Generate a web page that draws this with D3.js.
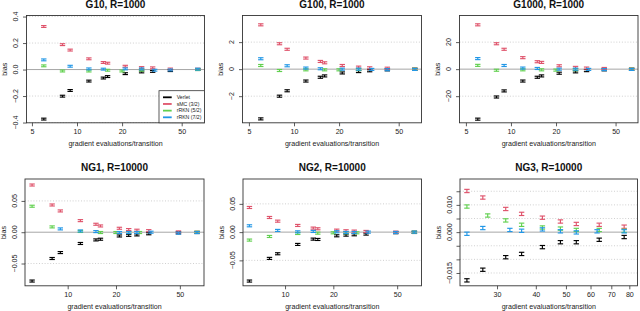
<!DOCTYPE html>
<html>
<head>
<meta charset="utf-8">
<script src="https://cdn.jsdelivr.net/npm/d3@7/dist/d3.min.js"></script>
<style>
body { margin: 0; background: #fff; }
svg { display: block; font-family: "Liberation Sans", Arial, Helvetica, sans-serif; }
</style>
</head>
<body>
<div id="chart-area"></div>
<script>
const methods = ["Verlet", "sMC (3/2)", "rRKN (5/2)", "rRKN (7/2)"];
const colors = ["#000000", "#DF536B", "#61D04F", "#2297E6"];

// gradient evaluations/transition, Gaussian targets
const gX_verlet = [6, 8, 9, 12, 15, 16, 21, 27, 32, 42, 64];
const gX_smc = [6, 8, 9, 12, 15, 16, 21, 27, 32, 42, 64];
const gX_rkn5 = [6, 8, 12, 16, 20, 27, 64];
const gX_rkn7 = [6, 9, 12, 15, 21, 27, 33, 42, 64];

// G10
const g10_verlet = [-0.374, -0.201, -0.158, -0.087, -0.064, -0.053, -0.031, -0.018, -0.014, -0.008, 0.0];
const g10_smc = [0.325, 0.188, 0.147, 0.081, 0.053, 0.048, 0.025, 0.015, 0.013, 0.004, 0.003];
const g10_rkn5 = [0.028, -0.011, -0.011, -0.005, -0.011, -0.005, 0.0];
const g10_rkn7 = [0.073, 0.025, 0.005, 0.003, 0.005, 0.005, -0.005, -0.003, 0.003];

// G100
const g100_verlet = [-3.68, -2.0, -1.6, -0.88, -0.6, -0.5, -0.28, -0.18, -0.12, -0.05, -0.02];
const g100_smc = [3.28, 1.88, 1.47, 0.82, 0.57, 0.47, 0.27, 0.15, 0.1, 0.07, 0.02];
const g100_rkn5 = [0.27, -0.1, -0.05, -0.05, -0.05, -0.03, 0.0];
const g100_rkn7 = [0.77, 0.25, 0.08, 0.03, 0.0, 0.0, -0.02, -0.04, -0.02];

// G1000
const g1000_verlet = [-37, -20.6, -16.1, -8.8, -6.0, -5.0, -3.0, -2.0, -1.1, -0.5, -0.1];
const g1000_smc = [32.8, 18.8, 14.7, 8.5, 5.5, 5.0, 2.5, 1.3, 0.8, 0.5, 0.1];
const g1000_rkn5 = [2.8, -0.8, -0.5, -0.5, -0.7, -0.4, 0.0];
const g1000_rkn7 = [7.8, 2.7, 0.8, 0.5, 0.0, 0.0, -0.2, -0.3, -0.2];

// gradient evaluations/transition, NG1 and NG2
const ngX_verlet = [6, 8, 9, 12, 15, 16, 21, 24, 27, 32, 49, 64];
const ngX_smc = [6, 8, 9, 12, 15, 16, 21, 24, 27, 32, 49, 64];
const ngX_rkn5 = [6, 8, 12, 16, 20, 24, 28, 64];
const ngX_rkn7 = [6, 9, 12, 15, 21, 24, 27, 33, 49, 64];

// NG1
const ng1_verlet = [-0.078, -0.042, -0.0325, -0.018, -0.0123, -0.0112, -0.006, -0.005, -0.0043, -0.0025, -0.001, -0.0005];
const ng1_smc = [0.0754, 0.0435, 0.034, 0.0185, 0.0127, 0.010, 0.0063, 0.0042, 0.0032, 0.0025, 0.0005, 0.0];
const ng1_rkn5 = [0.0415, 0.0085, 0.0012, -0.0005, -0.0005, -0.0005, -0.0005, 0.0];
const ng1_rkn7 = [null, 0.0053, 0.002, 0.001, -0.0005, -0.0005, -0.0005, 0.0, -0.0015, -0.0005];

// NG2
const ng2_verlet = [-0.0866, -0.0465, -0.0383, -0.0218, -0.0124, -0.013, -0.0065, -0.0053, -0.0047, -0.0035, -0.001, -0.0006];
const ng2_smc = [0.0436, 0.0259, 0.0194, 0.0118, 0.0071, 0.0059, 0.0035, 0.0024, 0.0018, 0.0012, 0.0, 0.0];
const ng2_rkn5 = [-0.0141, -0.0077, -0.0024, -0.0018, -0.0012, -0.0012, -0.0012, 0.0];
const ng2_rkn7 = [0.0112, 0.003, 0.0005, 0.0012, 0.0006, -0.0006, -0.0006, 0.0, -0.0006, 0.0];

// gradient evaluations/transition, NG3
const ng3X_verlet = [24, 27, 32, 36, 42, 48, 54, 64, 77];
const ng3X_smc = [24, 27, 32, 36, 42, 48, 54, 64, 77];
const ng3X_rkn5 = [24, 28, 32, 36, 42, 48, 54, 64, 77];
const ng3X_rkn7 = [24, 27, 33, 36, 42, 48, 54, 63, 77];

// NG3
const ng3_verlet = [-0.0177, -0.0138, -0.0092, -0.008, -0.0055, -0.0037, -0.0037, -0.0028, -0.0018];
const ng3_smc = [0.0151, 0.0127, 0.0085, 0.0067, 0.0053, 0.0039, 0.003, 0.0027, 0.002];
const ng3_rkn5 = [0.0094, 0.0061, 0.0043, 0.0027, 0.0017, 0.0013, 0.0008, 0.0008, 0.0005];
const ng3_rkn7 = [-0.0006, 0.0015, 0.0008, 0.0005, 0.001, 0.0003, -0.0001, 0.0003, 0.0003];

// standard errors (half height of the bars)
const seG = [0.007, 0.075, 0.75];
const seNG = [0.0016, 0.0018, 0.0006];

const gXs = [gX_verlet, gX_smc, gX_rkn5, gX_rkn7];
const ngXs = [ngX_verlet, ngX_smc, ngX_rkn5, ngX_rkn7];
const ng3Xs = [ng3X_verlet, ng3X_smc, ng3X_rkn5, ng3X_rkn7];

const panels = [
	{ title: "G10, R=1000", box: [26.5, 15.5, 204.5, 122.8], xDomain: [4.6, 71], yDomain: [-0.402, 0.408],
		xTicks: [5, 10, 20, 50], yTicks: [-0.4, -0.2, 0, 0.2, 0.4], yLabelTicks: [-0.4, -0.2, 0, 0.2, 0.4], fmt: ".1f",
		se: seG[0], xs: gXs, ys: [g10_verlet, g10_smc, g10_rkn5, g10_rkn7], legend: true },
	{ title: "G100, R=1000", box: [242.5, 15.5, 421.5, 122.8], xDomain: [4.53, 71], yDomain: [-3.97, 3.97],
		xTicks: [5, 10, 20, 50], yTicks: [-2, 0, 2], yLabelTicks: [-2, 0, 2], fmt: "d",
		se: seG[1], xs: gXs, ys: [g100_verlet, g100_smc, g100_rkn5, g100_rkn7] },
	{ title: "G1000, R=1000", box: [459.5, 15.5, 638, 122.8], xDomain: [4.53, 70.6], yDomain: [-39.7, 39.7],
		xTicks: [5, 10, 20, 50], yTicks: [-20, 0, 20], yLabelTicks: [-20, 0, 20], fmt: "d",
		se: seG[2], xs: gXs, ys: [g1000_verlet, g1000_smc, g1000_rkn5, g1000_rkn7] },
	{ title: "NG1, R=10000", box: [25, 179, 204, 285.8], xDomain: [5.42, 70.7], yDomain: [-0.0856, 0.085],
		xTicks: [10, 20, 50], yTicks: [-0.05, 0, 0.05], yLabelTicks: [-0.05, 0, 0.05], fmt: ".2f",
		se: seNG[0], xs: ngXs, ys: [ng1_verlet, ng1_smc, ng1_rkn5, ng1_rkn7] },
	{ title: "NG2, R=10000", box: [243, 179, 421.5, 285.8], xDomain: [5.47, 70.9], yDomain: [-0.095, 0.094],
		xTicks: [10, 20, 50], yTicks: [-0.05, 0, 0.05], yLabelTicks: [-0.05, 0, 0.05], fmt: ".2f",
		se: seNG[1], xs: ngXs, ys: [ng2_verlet, ng2_smc, ng2_rkn5, ng2_rkn7] },
	{ title: "NG3, R=10000", box: [460, 179, 637.5, 285.8], xDomain: [22.8, 85], yDomain: [-0.0197, 0.0195],
		xTicks: [30, 40, 50, 60, 70, 80], yTicks: [-0.015, -0.01, -0.005, 0, 0.005, 0.01, 0.015], yLabelTicks: [-0.015, 0, 0.01], fmt: ".3f",
		se: seNG[2], xs: ng3Xs, ys: [ng3_verlet, ng3_smc, ng3_rkn5, ng3_rkn7] }
];

const svg = d3.select("#chart-area")
	.append("svg")
	.attr("width", 640)
	.attr("height", 311);

const capW = 2.7;

panels.forEach((p) => {
	const [x0, y0, x1, y1] = p.box;
	const x = d3.scaleLog().domain(p.xDomain).range([x0, x1]);
	const y = d3.scaleLinear().domain(p.yDomain).range([y1, y0]);
	const g = svg.append("g");
	const cx = (x0 + x1) / 2;

	// dotted grid
	g.selectAll(".grid").data(p.yTicks.filter(d => d !== 0)).enter()
		.append("line")
		.attr("x1", x0).attr("x2", x1)
		.attr("y1", d => y(d)).attr("y2", d => y(d))
		.attr("stroke", "#c4c4c4")
		.attr("stroke-width", 0.8)
		.attr("stroke-dasharray", "1,1.8");

	// zero line
	g.append("line")
		.attr("x1", x0).attr("x2", x1)
		.attr("y1", y(0)).attr("y2", y(0))
		.attr("stroke", "#a6a6a6")
		.attr("stroke-width", 1);

	// error bars
	p.xs.forEach((xs, si) => {
		const pts = xs.map((xv, i) => ({ x: xv, y: p.ys[si][i] })).filter(d => d.y !== null);
		const eb = g.append("g").attr("stroke", colors[si]).attr("stroke-width", 1.15);
		eb.selectAll(".v").data(pts).enter().append("line")
			.attr("x1", d => x(d.x)).attr("x2", d => x(d.x))
			.attr("y1", d => y(d.y - p.se)).attr("y2", d => y(d.y + p.se));
		[-1, 1].forEach(sgn => {
			eb.selectAll(".c" + sgn).data(pts).enter().append("line")
				.attr("x1", d => x(d.x) - capW).attr("x2", d => x(d.x) + capW)
				.attr("y1", d => y(d.y + sgn * p.se)).attr("y2", d => y(d.y + sgn * p.se));
		});
	});

	// x axis
	const xAxisCall = d3.axisBottom(x)
		.tickValues(p.xTicks)
		.tickFormat(d3.format("d"))
		.tickSize(3.5)
		.tickPadding(2.2);
	const xa = g.append("g")
		.attr("transform", `translate(0, ${y1})`)
		.call(xAxisCall);
	xa.select(".domain").remove();
	xa.attr("font-family", null).attr("font-size", 7.1);
	xa.selectAll("line").attr("stroke", "#333").attr("stroke-width", 0.8);
	xa.selectAll("text").attr("fill", "#222");

	// y axis ticks
	const yAxisCall = d3.axisLeft(y)
		.tickValues(p.yTicks)
		.tickFormat("")
		.tickSize(3.5);
	const ya = g.append("g")
		.attr("transform", `translate(${x0}, 0)`)
		.call(yAxisCall);
	ya.select(".domain").remove();
	ya.selectAll("line").attr("stroke", "#333").attr("stroke-width", 0.8);

	// y tick labels, parallel to the axis
	const fmt = d3.format(p.fmt);
	g.selectAll(".ylab").data(p.yLabelTicks).enter()
		.append("text")
		.attr("transform", d => `translate(${x0 - 8.5}, ${y(d)}) rotate(-90)`)
		.attr("text-anchor", "middle")
		.attr("font-size", 7.1)
		.attr("fill", "#222")
		.text(d => fmt(d));

	// box
	g.append("rect")
		.attr("x", x0).attr("y", y0)
		.attr("width", x1 - x0).attr("height", y1 - y0)
		.attr("fill", "none")
		.attr("stroke", "#333")
		.attr("stroke-width", 0.9);

	// title
	g.append("text")
		.attr("x", cx)
		.attr("y", y0 - 7.6)
		.attr("text-anchor", "middle")
		.attr("font-size", 10)
		.attr("font-weight", "bold")
		.attr("fill", "#111")
		.text(p.title);

	// x-axis label
	g.append("text")
		.attr("x", cx)
		.attr("y", y1 + 23)
		.attr("text-anchor", "middle")
		.attr("font-size", 7.1)
		.attr("fill", "#222")
		.text("gradient evaluations/transition");

	// y-axis label
	g.append("text")
		.attr("transform", `translate(${x0 - 19.5}, ${(y0 + y1) / 2}) rotate(-90)`)
		.attr("text-anchor", "middle")
		.attr("font-size", 7.1)
		.attr("fill", "#222")
		.text("bias");

	if (p.legend) {
		const lx = 159, ly = 90.7;
		g.append("rect")
			.attr("x", lx).attr("y", ly)
			.attr("width", x1 - lx).attr("height", y1 - ly)
			.attr("fill", "#fff")
			.attr("stroke", "#333")
			.attr("stroke-width", 0.8);
		const items = g.selectAll(".leg").data(methods).enter().append("g")
			.attr("transform", (d, i) => `translate(${lx}, ${ly + 6.6 + i * 6.67})`);
		items.append("line")
			.attr("x1", 4).attr("x2", 12.7)
			.attr("stroke", (d, i) => colors[i])
			.attr("stroke-width", 1.8);
		items.append("text")
			.attr("x", 17.7)
			.attr("dy", "0.35em")
			.attr("font-size", 5.2)
			.attr("fill", "#222")
			.text(d => d);
	}
});
</script>
</body>
</html>
